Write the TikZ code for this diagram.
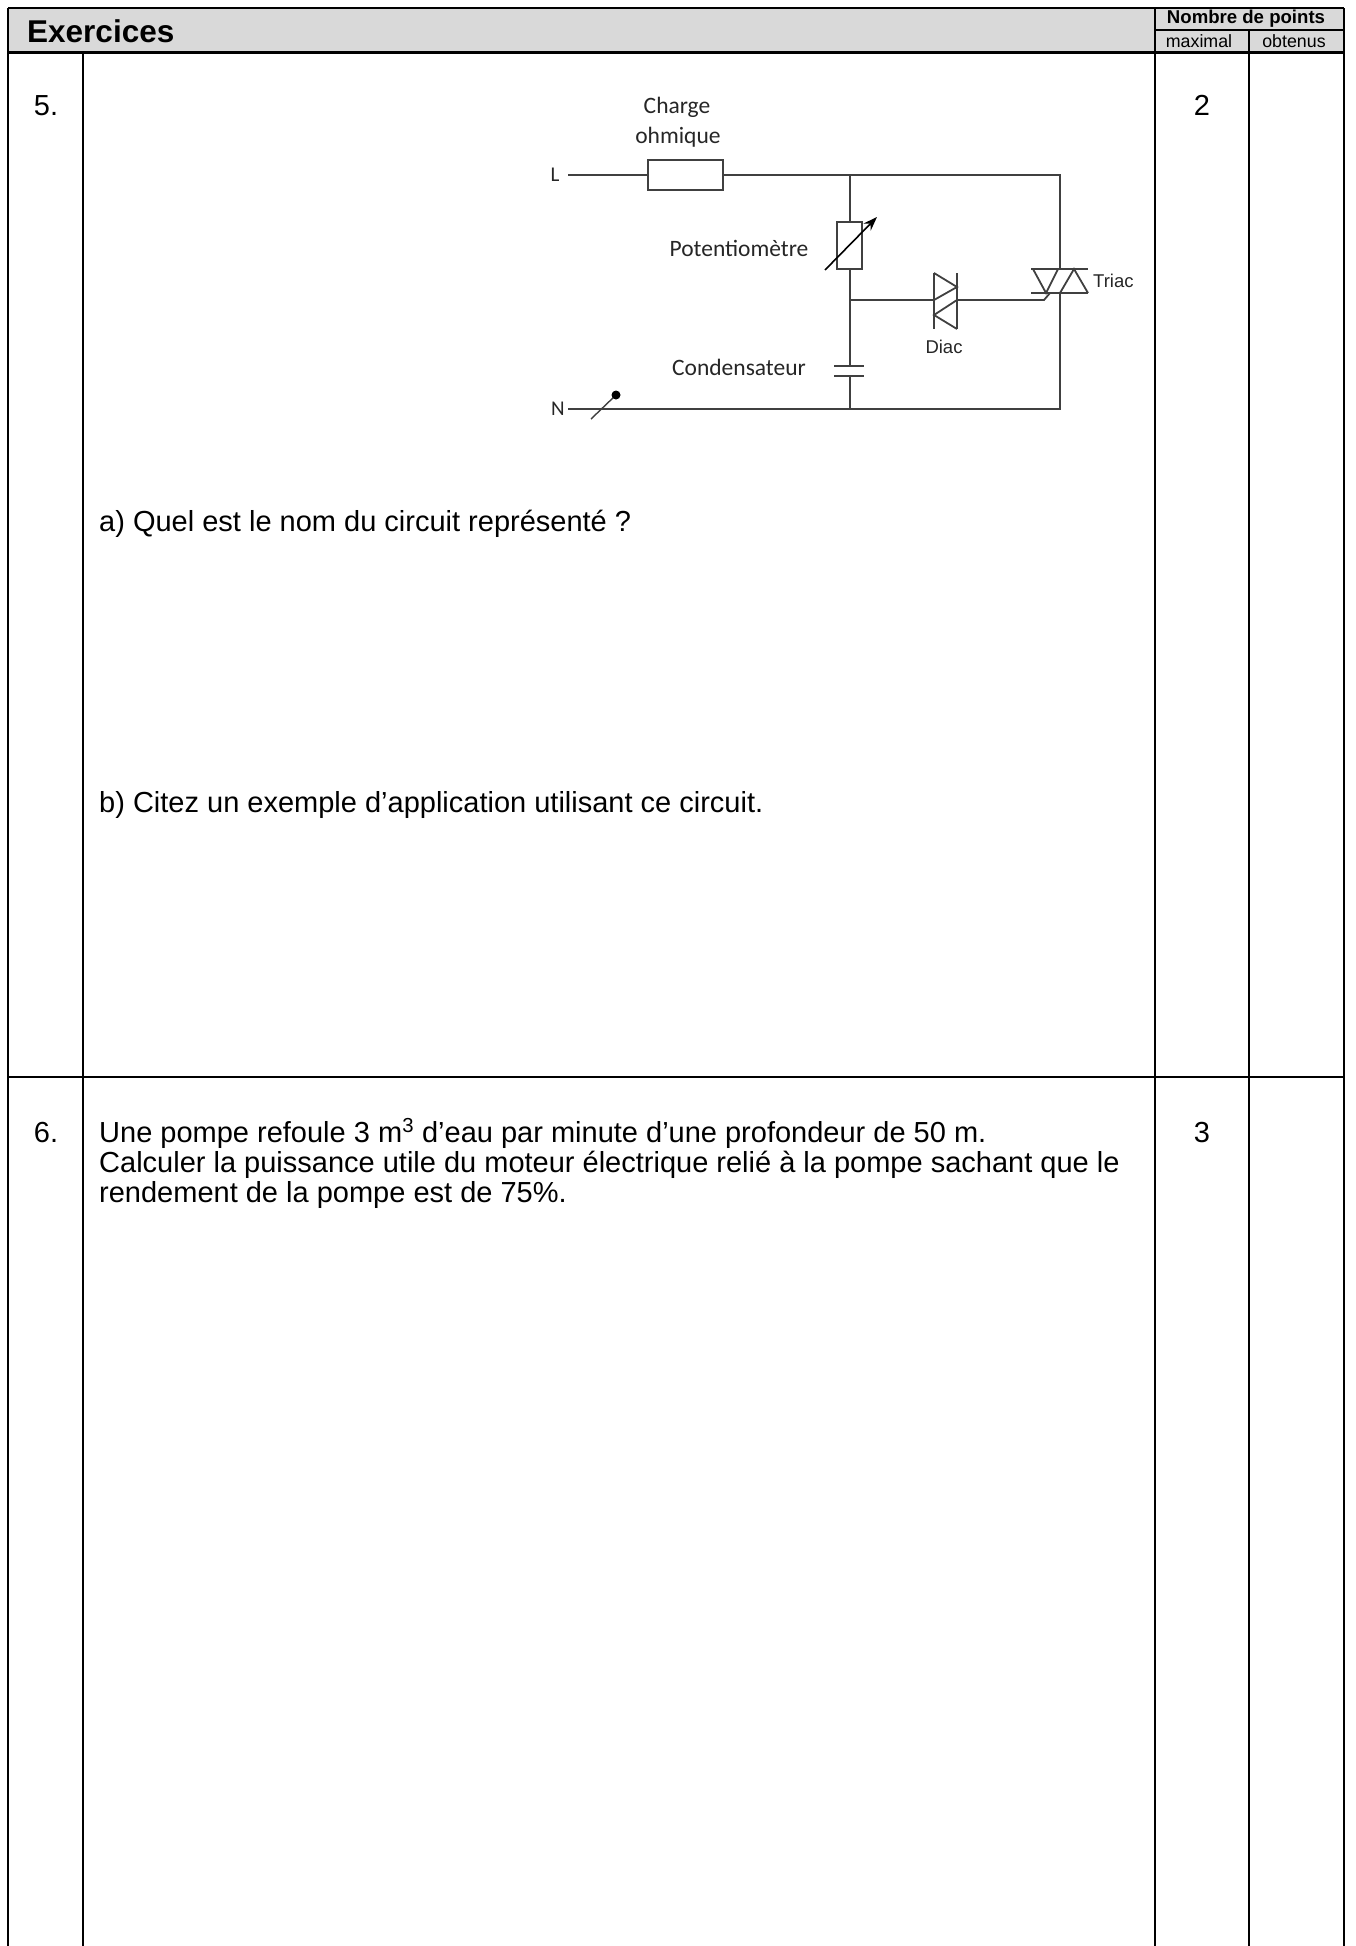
\documentclass[tikz,border=0pt]{standalone}
\usepackage{fontspec}
\setmainfont{Liberation Sans}
\newfontfamily\calfont{Carlito}
\usetikzlibrary{arrows.meta}
\definecolor{hdrgray}{RGB}{217,217,217}
\definecolor{wire}{RGB}{64,64,64}
\begin{document}
\begin{tikzpicture}[x=1pt,y=-1pt,
  frame/.style={line width=2.2pt,black},
  thickframe/.style={line width=3pt,black},
  body/.style={inner sep=0pt,font=\fontsize{29}{30}\selectfont},
  hdr/.style={inner sep=0pt,font=\fontsize{17.8}{20}\selectfont},
  cl/.style={inner sep=0pt,text=black!85,font=\calfont\fontsize{23.5}{28}\selectfont},
  al/.style={inner sep=0pt,text=black!85,font=\fontsize{18.5}{22}\selectfont},
  wr/.style={line width=1.8pt,wire},
  comp/.style={line width=1.8pt,wire,fill=white}]
\useasboundingbox (0,0) rectangle (1355,1946);
% header
\fill[hdrgray] (8,8) rectangle (1344,52);
\draw[frame] (8,8) -- (1344,8);
\draw[frame] (8,8) -- (8,1946);
\draw[frame] (1344,8) -- (1344,1946);
\draw[frame] (1155,8) -- (1155,1946);
\draw[frame] (1155,30) -- (1344,30);
\draw[frame] (1249,30) -- (1249,1946);
\draw[thickframe] (8,52) -- (1344,52);
\draw[frame] (83,52) -- (83,1946);
\draw[frame] (8,1077) -- (1344,1077);
\node[anchor=west,inner sep=0pt,font=\bfseries\fontsize{31.5}{34}\selectfont] (ex) at (27,31) {Exercices};
\node[hdr,font=\bfseries\fontsize{18.6}{20}\selectfont] (nb) at (1246,19) {Nombre de points};
\node[hdr] (mx) at (1199,41.5) {maximal};
\node[hdr] (ob) at (1294,41.5) {obtenus};
% section 5
\node[body,anchor=base] (n5) at (46,115) {5.};
\node[body,anchor=base] (p5) at (1202,115) {2};
\node[body,anchor=base west] (qa) at (99,531) {a) Quel est le nom du circuit représenté ?};
\node[body,anchor=base west] (qb) at (99,812) {b) Citez un exemple d’application utilisant ce circuit.};
% section 6
\node[body,anchor=base] (n6) at (46,1142) {6.};
\node[body,anchor=base] (p6) at (1202,1142) {3};
\node[body,anchor=base west] (q6) at (99,1142) {Une pompe refoule 3 m\textsuperscript{3} d'eau par minute d’une profondeur de 50 m.};
\node[body,anchor=base west] (q6b) at (99,1172) {Calculer la puissance utile du moteur électrique relié à la pompe sachant que le};
\node[body,anchor=base west] (q6c) at (99,1202) {rendement de la pompe est de 75\%.};
% circuit
\node[cl,font=\calfont\fontsize{21}{24}\selectfont] (Ll) at (555,175) {L};
\node[cl,font=\calfont\fontsize{21}{24}\selectfont] (Nl) at (558,409) {N};
\node[cl] (ch) at (677,107) {Charge};
\node[cl] (oh) at (678,137) {ohmique};
\node[cl] (pot) at (739,248) {Potentiomètre};
\node[cl] (cond) at (739,367) {Condensateur};
\node[al,anchor=west] (tr) at (1093,281) {Triac};
\node[al] (di) at (944,347) {Diac};
\coordinate (Lw) at (568,175);
\coordinate (Nw) at (568,409);
\coordinate (J1) at (850,175);
\coordinate (J2) at (850,300);
\coordinate (J3) at (850,409);
\coordinate (TR) at (1060,175);
\coordinate (BR) at (1060,409);
\draw[wr] (Lw) -- (648,175);
\draw[wr] (723,175) -- (TR) -- (1060,269);
\draw[wr] (1060,293) -- (BR) -- (Nw);
\draw[wr] (J1) -- (850,222);
\draw[wr] (850,269) -- (850,366);
\draw[wr] (850,376) -- (J3);
\draw[comp] (648,160) rectangle (723,190);
\draw[comp] (837,222) rectangle (862,269);
\draw[line width=1.6pt,black,-{Stealth[length=14pt,width=10pt]}] (825,270) -- (877,217);
\draw[wr] (834,366) -- (864,366);
\draw[wr] (834,376) -- (864,376);
% diac
\draw[wr] (J2) -- (934,300);
\draw[wr] (934,273) -- (934,329);
\draw[wr] (957,273) -- (957,329);
\draw[wr] (934,273) -- (957,287) -- (934,300);
\draw[wr] (957,300) -- (934,315) -- (957,329);
\draw[wr] (957,300) -- (1044,300) -- (1050,293);
% triac
\draw[wr] (1031,269) -- (1088,269);
\draw[wr] (1031,293) -- (1088,293);
\draw[wr] (1033,269) -- (1046,293) -- (1058,269);
\draw[wr] (1060,293) -- (1074,269) -- (1088,293);
% switch
\draw[line width=1.4pt,wire] (591,419) -- (616,395);
\fill[black] (616,395) circle (4.5);
\end{tikzpicture}
\end{document}
